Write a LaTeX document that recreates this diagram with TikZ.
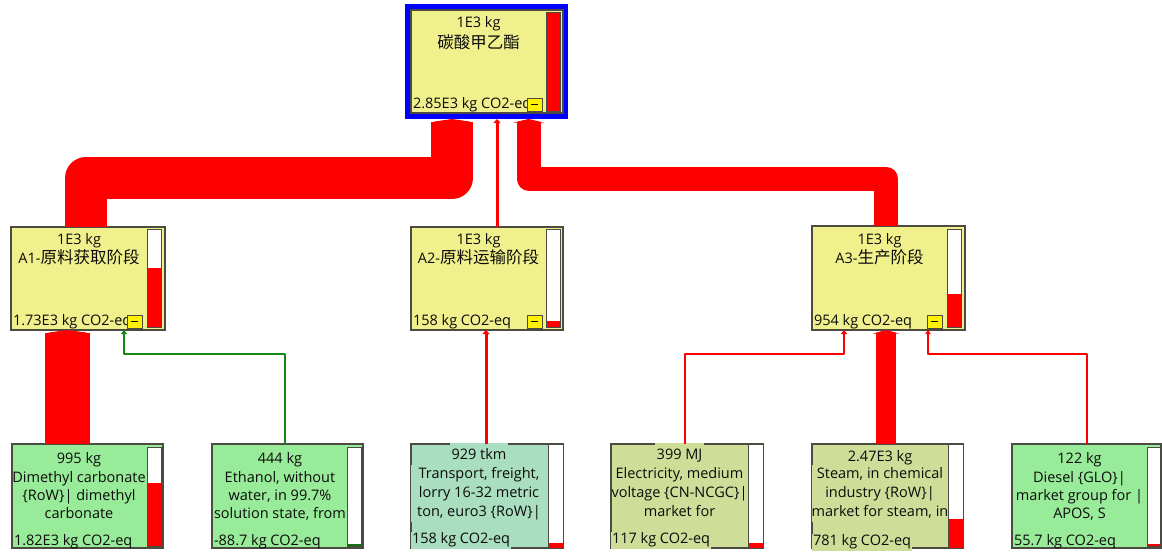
\documentclass[tikz,border=0pt]{standalone}
\usepackage{fontspec}
\setmainfont{Open Sans}
\newfontfamily\cjk{Noto Sans CJK SC}
\usetikzlibrary{arrows.meta,calc}
\definecolor{boxyel}{RGB}{240,240,140}
\definecolor{boxgrn}{RGB}{152,235,152}
\definecolor{boxteal}{RGB}{170,222,192}
\definecolor{boxlime}{RGB}{206,222,152}
\definecolor{bord}{RGB}{75,75,65}
\definecolor{txt}{RGB}{12,12,12}
\definecolor{flowred}{RGB}{255,0,0}
\definecolor{flowgrn}{RGB}{20,135,20}
\definecolor{negbar}{RGB}{20,110,20}
\newcommand{\zh}[1]{{\cjk\fontsize{16.5}{18}\selectfont #1}}
\newcommand{\lcabar}[6]{%
  \fill[white] (#1,#2) rectangle (#3,#4);
  \fill[#6] (#1,#5) rectangle (#3,#4);
  \draw[draw=bord, line width=1pt] (#1,#2) rectangle (#3,#4);}
\newcommand{\lcaminus}[2]{%
  \draw[draw=bord, fill=yellow, line width=1pt] (#1,#2) rectangle ++(15,13);
  \draw[draw=txt, line width=1.5pt] (#1+4,#2+6.5) -- ++(7,0);}
\begin{document}
\begin{tikzpicture}[x=1pt,y=-1pt,
  every node/.style={inner sep=0pt, outer sep=0pt, text=txt},
  proc/.style={draw=bord, line width=1.3pt},
  lbl/.style={anchor=base, font=\fontsize{14.5}{18}\selectfont},
  lft/.style={anchor=base west, font=\fontsize{14.5}{18}\selectfont},
  midfill/.style={anchor=base, font=\fontsize{14.5}{18}\selectfont, minimum width=136pt, text height=13pt, text depth=6pt, fill=#1},
  topfill/.style={anchor=base, font=\fontsize{14.5}{18}\selectfont, inner xsep=2pt, text height=16.2pt, text depth=3pt, fill=#1},
  botfill/.style={anchor=base west, font=\fontsize{14.5}{18}\selectfont, inner xsep=1pt, text height=11pt, text depth=6.2pt, fill=#1},
  flow/.style={draw=flowred, line join=round},
  thicktip/.style={-{Triangle[length=3.5pt 0 0, width=6pt 1 0]}},
  thintip/.style={-{Triangle[length=4pt 0 0, width=4pt 1 0]}},
]
\useasboundingbox (0,0) rectangle (1162,552);
\fill[white] (0,0) rectangle (1162,552);

% ---------- top process ----------
\node[fill=blue, minimum width=163pt, minimum height=115pt] (top) at (486.5,61.5) {};
\node[proc, fill=boxyel, minimum width=152pt, minimum height=103pt] (topin) at (487,61.5) {};
\lcabar{546}{12}{560}{111}{12}{flowred}
\node[lbl] (toptx1) at (478.5,27) {1E3 kg};
\node[lbl] (toptx2) at (478.5,48) {\zh{碳酸甲乙酯}};
\node[lft] (toptx3) at (413,108) {2.85E3 kg CO2-eq};
\lcaminus{527}{98}

% ---------- stage processes ----------
\node[proc, fill=boxyel, minimum width=154pt, minimum height=103pt] (a1) at (88,278.5) {};
\lcabar{147}{229}{161}{327}{268}{flowred}
\node[lbl] (a1tx1) at (79,244.5) {1E3 kg};
\node[lbl] (a1tx2) at (79,263) {A1-\zh{原料获取阶段}};
\node[lft] (a1tx3) at (13,325) {1.73E3 kg CO2-eq};
\lcaminus{127}{315}

\node[proc, fill=boxyel, minimum width=152pt, minimum height=103pt] (a2) at (487,278.5) {};
\lcabar{546}{229}{560}{327}{321}{flowred}
\node[lbl] (a2tx1) at (478.5,244.5) {1E3 kg};
\node[lbl] (a2tx2) at (478.5,263) {A2-\zh{原料运输阶段}};
\node[lft] (a2tx3) at (413,325) {158 kg CO2-eq};
\lcaminus{527}{315}

\node[proc, fill=boxyel, minimum width=153pt, minimum height=104pt] (a3) at (888.5,278) {};
\lcabar{947}{229}{961}{327}{294}{flowred}
\node[lbl] (a3tx1) at (879.5,244.5) {1E3 kg};
\node[lbl] (a3tx2) at (879.5,263) {A3-\zh{生产阶段}};
\node[lft] (a3tx3) at (814,325) {954 kg CO2-eq};
\lcaminus{927}{315}

% ---------- input processes ----------
\node[proc, fill=boxgrn, minimum width=151pt, minimum height=104pt] (b1) at (87.5,496) {};
\lcabar{147}{447}{161}{546}{483}{flowred}
\node[lbl] (b1tx1) at (79,463) {995 kg};
\node[lbl] (b1tx2) at (79,482) {Dimethyl carbonate};
\node[lbl] (b1tx3) at (79,500) {\{RoW\}| dimethyl};
\node[lbl] (b1tx4) at (79,518) {carbonate};
\node[lft] (b1tx5) at (14,545) {1.82E3 kg CO2-eq};

\node[proc, fill=boxgrn, minimum width=151pt, minimum height=104pt] (b2) at (287.5,496) {};
\lcabar{347}{447}{361}{546}{543.5}{negbar}
\node[lbl] (b2tx1) at (280,463) {444 kg};
\node[lbl] (b2tx2) at (280,482) {Ethanol, without};
\node[lbl] (b2tx3) at (280,500) {water, in 99.7\%};
\node[lbl] (b2tx4) at (280,518) {solution state, from};
\node[lft] (b2tx5) at (214,545) {-88.7 kg CO2-eq};

\node[proc, fill=boxteal, minimum width=152pt, minimum height=104pt] (b3) at (487,496) {};
\lcabar{548}{444}{563}{548}{543}{flowred}
\node[topfill=boxteal] (b3tx1) at (479,459) {929 tkm};
\node[midfill=boxteal] (b3tx2) at (479,478) {Transport, freight,};
\node[midfill=boxteal] (b3tx3) at (479,497) {lorry 16-32 metric};
\node[midfill=boxteal] (b3tx4) at (479,516) {ton, euro3 \{RoW\}|};
\node[botfill=boxteal] (b3tx5) at (411,543) {158 kg CO2-eq};

\node[proc, fill=boxlime, minimum width=152pt, minimum height=104pt] (b4) at (687,496) {};
\lcabar{748}{444}{763}{548}{543}{flowred}
\node[topfill=boxlime] (b4tx1) at (679.5,459) {399 MJ};
\node[midfill=boxlime] (b4tx2) at (679.5,478) {Electricity, medium};
\node[midfill=boxlime] (b4tx3) at (679.5,497) {voltage \{CN-NCGC\}|};
\node[midfill=boxlime] (b4tx4) at (679.5,516) {market for};
\node[botfill=boxlime] (b4tx5) at (611,543) {117 kg CO2-eq};

\node[proc, fill=boxlime, minimum width=151pt, minimum height=104pt] (b5) at (887.5,496) {};
\lcabar{948}{444}{963}{548}{519}{flowred}
\node[topfill=boxlime] (b5tx1) at (880,461) {2.47E3 kg};
\node[midfill=boxlime] (b5tx2) at (880,478) {Steam, in chemical};
\node[midfill=boxlime] (b5tx3) at (880,497) {industry \{RoW\}|};
\node[midfill=boxlime] (b5tx4) at (880,516) {market for steam, in};
\node[botfill=boxlime] (b5tx5) at (812,545) {781 kg CO2-eq};

\node[proc, fill=boxgrn, minimum width=149pt, minimum height=104pt] (b6) at (1086.5,496) {};
\lcabar{1147}{447}{1160}{546}{544}{flowred}
\node[lbl] (b6tx1) at (1079.5,463) {122 kg};
\node[lbl] (b6tx2) at (1079.5,482) {Diesel \{GLO\}|};
\node[lbl] (b6tx3) at (1079.5,500) {market group for |};
\node[lbl] (b6tx4) at (1079.5,518) {APOS, S};
\node[lft] (b6tx5) at (1014,545) {55.7 kg CO2-eq};

% ---------- connectors ----------
\coordinate (a2out) at ([xshift=10pt]a2.north);
\coordinate (b1out) at ([xshift=-20pt]b1.north);
\coordinate (b3out) at ([xshift=-1pt]b3.north);
\coordinate (b5out) at ([xshift=-1.5pt]b5.north);

\draw[flow, line width=42pt, thicktip] ([xshift=-2pt]a1.north) -- ++(0,-49) -| ([xshift=-34.5pt]top.south);
\draw[flow, line width=3pt, thintip] (a2out) -- (a2out |- top.south);
\draw[flow, line width=24pt, thicktip] ([xshift=-2.5pt]a3.north) -- ++(0,-47.5) -| ([xshift=42pt]top.south);

\draw[flow, line width=45pt, thicktip] (b1out) -- (b1out |- a1.south);
\draw[draw=flowgrn, line join=round, line width=2pt, thintip] ([xshift=-2.5pt]b2.north) -- ++(0,-90) -| ([xshift=36pt]a1.south);
\draw[flow, line width=3pt, thintip] (b3out) -- (b3out |- a2.south);
\draw[flow, line width=2pt, thintip] ([xshift=-2pt]b4.north) -- ++(0,-90) -| ([xshift=-44.5pt]a3.south);
\draw[flow, line width=20pt, thicktip] (b5out) -- (b5out |- a3.south);
\draw[flow, line width=1.2pt, thintip] ([xshift=0.5pt]b6.north) -- ++(0,-90) -| ([xshift=39.5pt]a3.south);
\end{tikzpicture}
\end{document}
